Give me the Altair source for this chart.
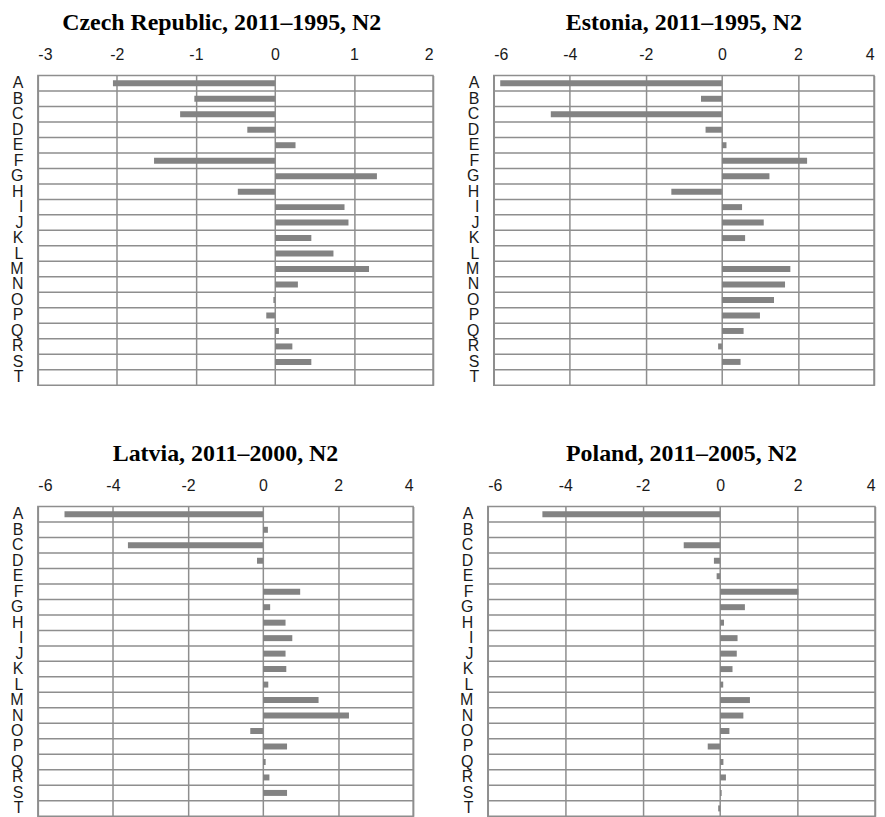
import altair as alt
import pandas as pd

categories = list("ABCDEFGHIJKLMNOPQRST")

czech = [-2.05, -1.02, -1.20, -0.35, 0.26, -1.53, 1.29, -0.47, 0.88, 0.93,
         0.46, 0.74, 1.19, 0.29, -0.02, -0.11, 0.05, 0.22, 0.46, 0.0]
estonia = [-5.83, -0.55, -4.50, -0.43, 0.12, 2.24, 1.25, -1.33, 0.53, 1.10,
           0.61, 0.0, 1.80, 1.66, 1.37, 1.00, 0.57, -0.10, 0.49, 0.0]
latvia = [-5.29, 0.13, -3.60, -0.16, 0.0, 0.99, 0.19, 0.60, 0.78, 0.60,
          0.62, 0.14, 1.48, 2.29, -0.34, 0.64, 0.07, 0.17, 0.64, 0.01]
poland = [-4.59, 0.0, -0.94, -0.16, -0.09, 2.02, 0.64, 0.10, 0.45, 0.43,
          0.32, 0.08, 0.77, 0.60, 0.24, -0.32, 0.085, 0.15, 0.04, -0.05]

titles = ["Czech Republic, 2011\u20131995, N2", "Estonia, 2011\u20131995, N2",
          "Latvia, 2011\u20132000, N2", "Poland, 2011\u20132005, N2"]

GRID = "#8e8e8e"
BAR = "#838383"


def y_axis():
    return alt.Axis(
        title=None, ticks=False, tickSize=0, domain=False, grid=False,
        labelFont="Liberation Sans", labelFontSize=16, labelColor="#1a1a1a",
        labelAlign="right", labelPadding=15, minExtent=28, maxExtent=28,
    )


def panel(title, vals, domain, ticks, width, frame):
    df = pd.DataFrame({"cat": categories, "value": vals})
    yscale = alt.Scale(domain=categories, paddingInner=0, paddingOuter=0)
    bars = alt.Chart(df).mark_bar(color=BAR, height=6).encode(
        x=alt.X(
            "value:Q",
            scale=alt.Scale(domain=domain, nice=False),
            axis=alt.Axis(
                orient="top", values=ticks, title=None, ticks=False, tickSize=0,
                domain=False, grid=True, gridColor=GRID, gridWidth=1.5,
                labelFont="Liberation Sans", labelFontSize=16, labelColor="#1a1a1a",
                labelPadding=13,
                labelExpr="datum.value < 0 ? '-' + abs(datum.value) : '' + datum.value",
            ),
        ),
        y=alt.Y("cat:N", sort=categories, scale=yscale, axis=y_axis()),
    )
    rules = alt.Chart(pd.DataFrame({"cat": categories[1:]})).mark_rule(
        color=GRID, strokeWidth=1.5
    ).encode(y=alt.Y("cat:N", bandPosition=0, scale=yscale, axis=y_axis()))
    return alt.layer(rules, bars).properties(
        width=width, height=311,
        title=alt.TitleParams(
            title, font="Liberation Serif", fontSize=24, fontWeight="bold",
            color="black", anchor="middle", frame=frame, offset=12,
        ),
    )


cz = panel(titles[0], czech, [-3, 2], [-3, -2, -1, 0, 1, 2], 397, "bounds")
es = panel(titles[1], estonia, [-6, 4], [-6, -4, -2, 0, 2, 4], 382, "group")
lv = panel(titles[2], latvia, [-6, 4], [-6, -4, -2, 0, 2, 4], 377, "group")
pl = panel(titles[3], poland, [-6, 4], [-6, -4, -2, 0, 2, 4], 389, "group")

top = alt.hconcat(cz, es, spacing=29)
bottom = alt.hconcat(lv, pl, spacing=43)
chart = alt.vconcat(top, bottom, spacing=55).configure_view(
    stroke=GRID, strokeWidth=1.5
).properties(padding=0, background="white")

chart.save("out.html", embed_options={"renderer": "svg", "actions": False})
